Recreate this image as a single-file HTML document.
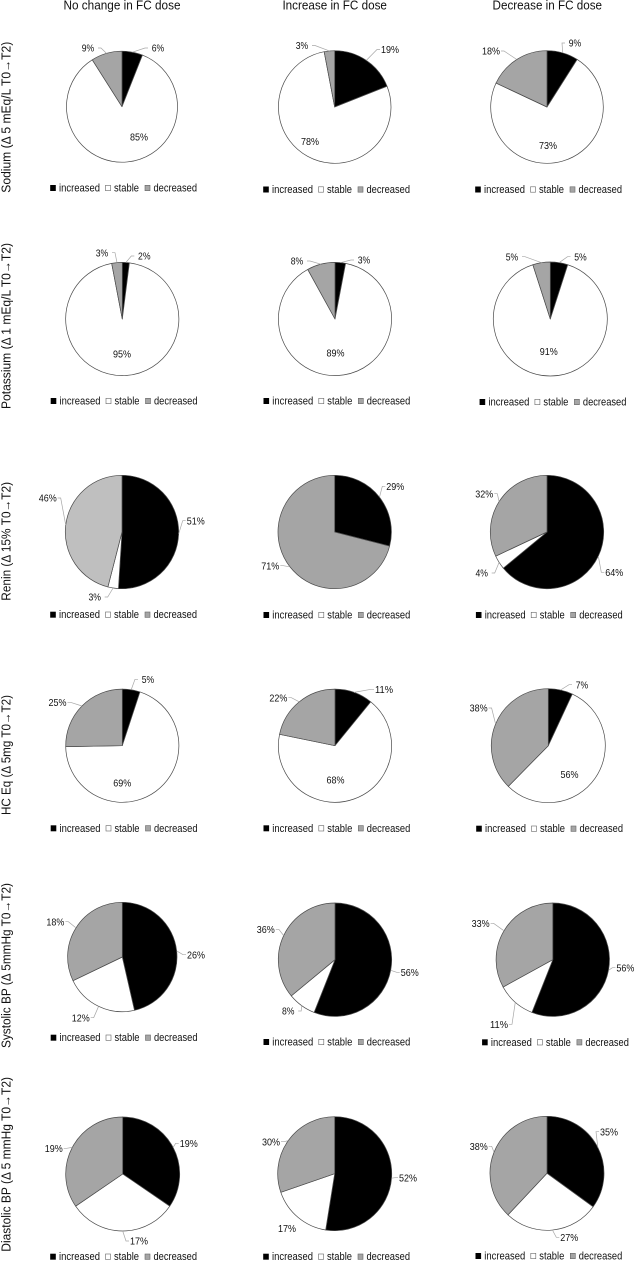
<!DOCTYPE html>
<html lang="en">
<head>
<meta charset="utf-8">
<title>Pie charts by FC dose change</title>
<style>
html,body{margin:0;padding:0;background:#fff;width:638px;height:1270px;overflow:hidden}
svg{display:block;font-family:"Liberation Sans",sans-serif;fill:#111;filter:blur(0.3px)}
</style>
</head>
<body>
<svg id="figure" width="638" height="1270" viewBox="0 0 638 1270" xmlns="http://www.w3.org/2000/svg"></svg>
<script>
// ---- data ----
const groupTitles = ["No change in FC dose", "Increase in FC dose", "Decrease in FC dose"];
const metricTitles = [
  "Sodium (Δ 5 mEq/L T0→T2)",
  "Potassium (Δ 1 mEq/L T0→T2)",
  "Renin (Δ 15% T0→T2)",
  "HC Eq (Δ 5mg T0→T2)",
  "Systolic BP (Δ 5mmHg T0→T2)",
  "Diastolic BP (Δ 5 mmHg T0→T2)"
];
const seriesNames = ["increased", "stable", "decreased"];
const increasedValues = [[6,19,9],[2,3,5],[51,29,64],[5,11,7],[26,56,56],[19,52,35]];
const stableValues    = [[85,78,73],[95,89,91],[3,0,4],[69,68,56],[12,8,11],[17,17,27]];
const decreasedValues = [[9,3,18],[3,8,5],[46,71,32],[25,22,38],[18,36,33],[19,30,38]];

// ---- layout (not data) ----
const titleCenters = [122, 334.7, 547.3];
const titleWidths = [117, 104.5, 109.5];
const rowTitleSpans = [[41.7,192.7],[243,409],[482,600.7],[695,815],[883,1048],[1077,1251.7]];
const pieGeometry = [
  [[122,106.7,55.5],[334.7,107,56.3],[547,107,56.3]],
  [[122.3,319,56.6],[335,319,56.6],[550.3,319,57]],
  [[122,532,56.7],[334.7,532,56.7],[547,532,56.7]],
  [[122.3,745.7,56.6],[335,745.7,56.6],[548.3,745.7,57]],
  [[122.3,957,54.7],[335,959.7,56.7],[552.8,959.7,56.7]],
  [[122.7,1174,57],[334.7,1173.7,57],[547,1173.3,57]]
];
// label centres: per row, per column, in series order; third item 1 = has leader line
const labelPlacement = [
  [[[158,48,1],[139,137,0],[88,48,1]],[[390,49.5,1],[310,141.5,0],[302,45.5,1]],[[575,43,1],[548,145.5,0],[491,51,1]]],
  [[[144.3,256,1],[122,354,0],[102,252.7,1]],[[364,260,1],[335.5,352.7,0],[297,261,1]],[[580.5,256.7,1],[548.7,351.5,0],[512,256.7,1]]],
  [[[195.7,520.7,1],[94.7,597,1],[47.7,498,1]],[[395.3,486.3,1],[0,0,0],[270.3,565.7,1]],[[614.3,572.3,1],[481.7,573,1],[484.3,493.7,1]]],
  [[[148,679.3,1],[122.3,783,0],[57.5,702.3,1]],[[384,689.3,1],[335.5,780,0],[278.4,697.7,1]],[[582,684.7,1],[569.5,774.3,0],[478.6,708,1]]],
  [[[196,954.7,1],[80.7,1017.7,1],[55.4,921.7,1]],[[409.7,972.3,1],[288.2,1011,1],[265.8,929.3,1]],[[625.4,967.7,1],[499,1024.3,1],[480.6,923.3,1]]],
  [[[188.7,1143.3,1],[139,1241,1],[53.7,1148.3,1]],[[408,1177.7,1],[287,1228.3,0],[271,1141.7,1]],[[609,1131.7,1],[569.3,1237.3,1],[478.7,1146.3,1]]]
];
const legendOrigins = [
  [[50,188],[263,189.5],[475,189.5]],
  [[50.5,401],[263.3,401],[479.4,402]],
  [[50,614.7],[263.3,615],[475.7,615]],
  [[50.5,828.3],[263.3,828.3],[476,828.7]],
  [[50.5,1037.7],[263.3,1042],[481.9,1042.3]],
  [[50,1256.7],[263,1256.7],[475.3,1256]]
];
const sliceFills = ["#000000", "#ffffff", "#a5a5a5"];
const legendSwatchX = [0, 55, 94.5];
const legendTextX = [9, 64, 103.5];
const legendTextW = [41, 25, 43.5];

const svgNS = "http://www.w3.org/2000/svg";
const root = document.getElementById("figure");
function make(tag, attrs, parent) {
  const el = document.createElementNS(svgNS, tag);
  for (const k in attrs) el.setAttribute(k, attrs[k]);
  (parent || root).appendChild(el);
  return el;
}
function polar(cx, cy, r, frac) {
  const a = frac * 2 * Math.PI;
  return [cx + r * Math.sin(a), cy - r * Math.cos(a)];
}
function slicePath(cx, cy, r, f0, f1) {
  if (f1 - f0 >= 0.9999) {
    return "M" + cx + " " + (cy - r) + "A" + r + " " + r + " 0 1 1 " + cx + " " + (cy + r) + "A" + r + " " + r + " 0 1 1 " + cx + " " + (cy - r) + "Z";
  }
  const p0 = polar(cx, cy, r, f0), p1 = polar(cx, cy, r, f1);
  const large = f1 - f0 > 0.5 ? 1 : 0;
  return "M" + cx + " " + cy + "L" + p0[0].toFixed(2) + " " + p0[1].toFixed(2) + "A" + r + " " + r + " 0 " + large + " 1 " + p1[0].toFixed(2) + " " + p1[1].toFixed(2) + "Z";
}

// column headers
groupTitles.forEach(function (t, c) {
  const el = make("text", {x: titleCenters[c], y: 9.5, "text-anchor": "middle", "font-size": 13, textLength: titleWidths[c], lengthAdjust: "spacingAndGlyphs"});
  
  
  el.textContent = t;
});

// row headers
metricTitles.forEach(function (t, r) {
  const span = rowTitleSpans[r];
  const mid = (span[0] + span[1]) / 2;
  const el = make("text", {x: 10.5, y: mid, transform: "rotate(-90 10.5 " + mid + ")", "text-anchor": "middle", "font-size": 13, textLength: span[1] - span[0], lengthAdjust: "spacingAndGlyphs"});
  
  
  el.textContent = t;
});

// pies
metricTitles.forEach(function (_, r) {
  groupTitles.forEach(function (_, c) {
    const values = [increasedValues[r][c], stableValues[r][c], decreasedValues[r][c]];
    const total = values.reduce(function (a, b) { return a + b; }, 0);
    const geo = pieGeometry[r][c];
    const cx = geo[0], cy = geo[1], rad = geo[2];
    const g = make("g", {});
    
    
    let acc = 0;
    values.forEach(function (v, s) {
      const f0 = acc / total;
      acc += v;
      const f1 = acc / total;
      if (v > 0) {
        let fill = sliceFills[s];
        if (r === 2 && c === 0 && s === 2) fill = "#bfbfbf";
        const p = make("path", {d: slicePath(cx, cy, rad, f0, f1), fill: fill, stroke: "#4a4a4a", "stroke-width": 0.7, "stroke-linejoin": "round"}, g);
        
        
        const place = labelPlacement[r][c][s];
        const lx = place[0], ly = place[1];
        if (place[2]) {
          const start = polar(cx, cy, rad, (f0 + f1) / 2);
          const dir = lx < cx ? 1 : -1;
          const end = lx + dir * 10;
          const line = make("polyline", {points: start[0].toFixed(1) + "," + start[1].toFixed(1) + " " + (end + dir * 3) + "," + ly + " " + end + "," + ly, fill: "none", stroke: "#a6a6a6", "stroke-width": 0.7}, g);
          
          
        }
        const labelText = v + "%";
        const lab = make("text", {x: lx, y: ly + 3.6, "text-anchor": "middle", "font-size": 10.5, textLength: labelText.length === 2 ? 12.5 : 18, lengthAdjust: "spacingAndGlyphs"}, g);
        
        
        lab.textContent = labelText;
      }
    });

    // legend
    const lo = legendOrigins[r][c];
    const leg = make("g", {});
    
    
    seriesNames.forEach(function (name, s) {
      const sw = make("rect", {x: lo[0] + legendSwatchX[s] + 0.5, y: lo[1] - 2.7, width: 5, height: 5.4, fill: sliceFills[s], stroke: s === 0 ? "#000" : "#666", "stroke-width": 0.6}, leg);
      
      
      const tx = make("text", {x: lo[0] + legendTextX[s], y: lo[1] + 3.5, "font-size": 10.8, textLength: legendTextW[s], lengthAdjust: "spacingAndGlyphs"}, leg);
      
      
      tx.textContent = name;
    });
  });
});
</script>
</body>
</html>
